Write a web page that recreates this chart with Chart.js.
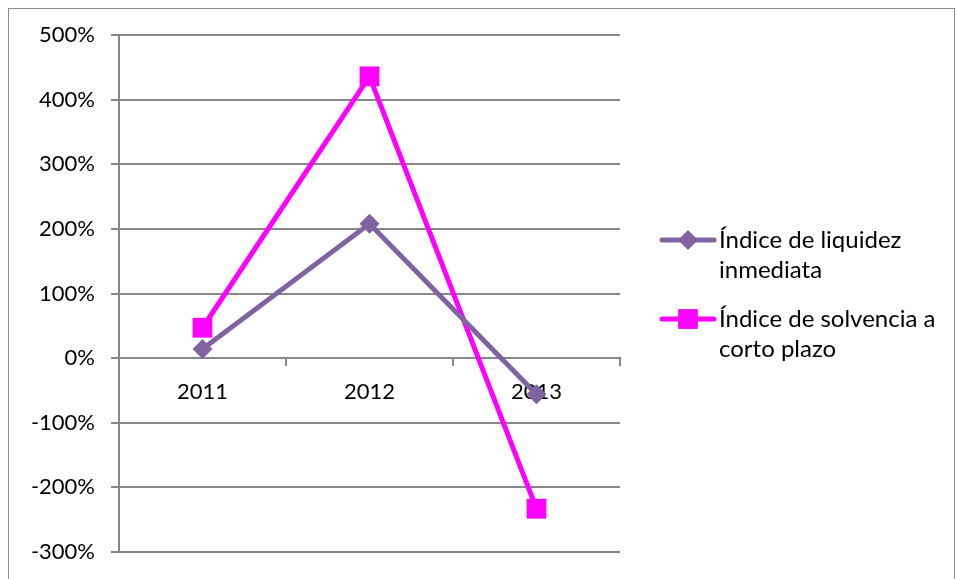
<!DOCTYPE html>
<html>
<head>
<meta charset="utf-8">
<script src="https://cdn.jsdelivr.net/npm/chart.js@4"></script>
<style>
  html, body { margin: 0; padding: 0; background: #fff; }
  #wrap { width: 957px; height: 579px; position: relative; }
</style>
</head>
<body>
<div id="wrap"><canvas id="c" width="957" height="579"></canvas></div>
<script>
// Years on the category axis
const years = ['2011', '2012', '2013'];
// Ratios expressed as fractions (1 = 100%)
const liquidezInmediata = [0.14, 2.08, -0.56];
const solvenciaCortoPlazo = [0.47, 4.36, -2.33];
// Legend texts, split on two lines
const labelLiquidez = ['Índice de liquidez', 'inmediata'];
const labelSolvencia = ['Índice de solvencia a', 'corto plazo'];
// Value axis range and step
const yMin = -3, yMax = 5, yStep = 1;

const FONT = 'Lato, "Open Sans", sans-serif';
const GRID = '#878787';

// Frame around the whole chart and a two-line legend on the right
const framePlugin = {
  id: 'frame',
  afterDraw(chart) {
    const ctx = chart.ctx;
    ctx.save();
    ctx.strokeStyle = '#8c8c8c';
    ctx.lineWidth = 1;
    ctx.strokeRect(8.5, 8.5, 946, 620);

    const entries = [
      { ds: chart.data.datasets[0], lines: labelLiquidez, y: 240 },
      { ds: chart.data.datasets[1], lines: labelSolvencia, y: 319 }
    ];
    entries.forEach(e => {
      ctx.strokeStyle = e.ds.borderColor;
      ctx.lineWidth = 5;
      ctx.lineCap = 'round';
      ctx.beginPath();
      ctx.moveTo(662, e.y);
      ctx.lineTo(714, e.y);
      ctx.stroke();
      ctx.fillStyle = e.ds.backgroundColor;
      Chart.helpers.drawPoint(ctx, {
        pointStyle: e.ds.pointStyle,
        radius: e.ds.pointRadius,
        rotation: 0,
        borderWidth: 0
      }, 688, e.y);
      ctx.fillStyle = '#000';
      ctx.font = '24px ' + FONT;
      ctx.textBaseline = 'middle';
      ctx.textAlign = 'left';
      e.lines.forEach((t, i) => ctx.fillText(t, 719, e.y + i * 30));
    });
    ctx.restore();
  }
};

new Chart(document.getElementById('c'), {
  type: 'line',
  data: {
    labels: years,
    datasets: [
      {
        label: labelLiquidez.join(' '),
        data: liquidezInmediata,
        borderColor: '#8064A2',
        backgroundColor: '#8064A2',
        borderWidth: 5,
        pointStyle: 'rectRot',
        pointRadius: 10,
        pointBorderWidth: 0,
        tension: 0
      },
      {
        label: labelSolvencia.join(' '),
        data: solvenciaCortoPlazo,
        borderColor: '#FF00FF',
        backgroundColor: '#FF00FF',
        borderWidth: 5,
        pointStyle: 'rect',
        pointRadius: 14,
        pointBorderWidth: 0,
        tension: 0
      }
    ]
  },
  options: {
    responsive: false,
    animation: false,
    layout: { padding: { left: 0, top: 35, right: 337, bottom: 27 } },
    plugins: {
      legend: { display: false },
      tooltip: { enabled: false }
    },
    scales: {
      x: {
        position: { y: 0 },
        offset: true,
        grid: {
          offset: true,
          drawOnChartArea: false,
          drawTicks: true,
          tickLength: 7,
          color: GRID,
          lineWidth: 2
        },
        border: { color: GRID, width: 2 },
        ticks: {
          color: '#000',
          font: { family: FONT, size: 22 },
          padding: 14,
          maxRotation: 0
        }
      },
      y: {
        min: yMin,
        max: yMax,
        afterFit(scale) {
          scale.width = 119;
          scale.paddingTop = 0;
          scale.paddingBottom = 0;
        },
        grid: {
          color: GRID,
          lineWidth: 2,
          tickLength: 8
        },
        border: { color: GRID, width: 2 },
        ticks: {
          stepSize: yStep,
          color: '#000',
          font: { family: FONT, size: 22 },
          padding: 16,
          callback: v => Math.round(v * 100) + '%'
        }
      }
    }
  },
  plugins: [framePlugin]
});
</script>
</body>
</html>
